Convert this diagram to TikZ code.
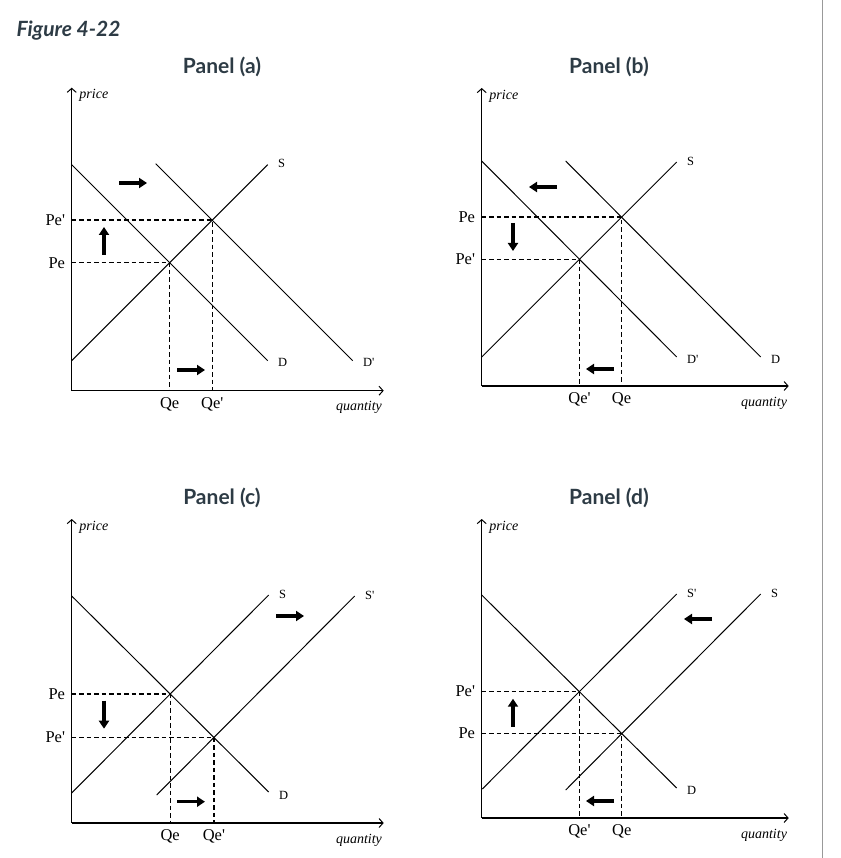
\documentclass[tikz,border=0pt]{standalone}
\usepackage{fontspec}
\setmainfont{Liberation Serif}
\newfontfamily\latofont{Lato}
\usetikzlibrary{arrows.meta}
\definecolor{tituloazul}{HTML}{2D3B45}
\newcommand{\prima}{\textquotesingle}

\tikzset{
  curva/.style={black, line width=1pt},
  eje/.style={black, line width=1.5pt, -{Straight Barb[length=4pt,width=9pt,line width=1pt]}},
  guia/.style={black, line width=1.4pt, dash pattern=on 4.5pt off 3pt},
  flecha/.style={black, line width=3.2pt, -{Triangle[length=8pt,width=10pt]}},
  titulo/.style={font=\latofont\bfseries\fontsize{21}{24}\selectfont, text=tituloazul},
  etiq/.style={font=\fontsize{16.5}{18}\selectfont, inner sep=2pt},
  curvaetiq/.style={font=\fontsize{12.5}{14}\selectfont, inner sep=1pt, anchor=west},
  ejeetiq/.style={font=\itshape\fontsize{14}{15}\selectfont, inner sep=1pt},
}

\begin{document}
\begin{tikzpicture}[x=1pt, y=1pt]
    \useasboundingbox (0,0) rectangle (840,-858);

    % Titulos
    \node[titulo, font=\latofont\bfseries\itshape\fontsize{21}{24}\selectfont, anchor=west] (figura) at (13,-31) {Figure 4-22};
    \node[titulo] (tit-a) at (222,-67) {Panel (a)};
    \node[titulo] (tit-b) at (609,-67) {Panel (b)};
    \node[titulo] (tit-c) at (222,-498) {Panel (c)};
    \node[titulo] (tit-d) at (609,-498) {Panel (d)};

    % Linea gris del borde derecho
    \draw[black!40, line width=1pt] (822.3,0) -- (822.3,-858);

    % Panel (a): aumento de la demanda
    \begin{scope}[shift={(71.7,-390.7)}]
        \coordinate (a-O) at (0,0);
        \draw[eje] (a-O) -- (0,303) node[ejeetiq, anchor=north west, xshift=6pt] (a-precio) {price};
        \draw[eje] (a-O) -- (312,0) node[ejeetiq, anchor=north east, yshift=-9pt] (a-cant) {quantity};

        \coordinate (a-D0) at (0,226);  \coordinate (a-D1) at (196,30);
        \coordinate (a-S0) at (0,30);   \coordinate (a-S1) at (196,226);
        \coordinate (a-Dp0) at (84,227); \coordinate (a-Dp1) at (281,30);
        \draw[curva] (a-D0) -- (a-D1) node[curvaetiq, xshift=9pt, yshift=-2pt] (a-D) {D};
        \draw[curva] (a-S0) -- (a-S1) node[curvaetiq, xshift=9pt, yshift=1pt] (a-S) {S};
        \draw[curva] (a-Dp0) -- (a-Dp1) node[curvaetiq, xshift=9pt, yshift=-2pt] (a-Dp) {D\prima};

        % Equilibrios y lineas guia
        \coordinate (a-E) at (intersection of a-D0--a-D1 and a-S0--a-S1);
        \coordinate (a-Ep) at (intersection of a-Dp0--a-Dp1 and a-S0--a-S1);
        \draw[guia] (a-E -| a-O) node[etiq, left=4pt] (a-Pe) {Pe} -- (a-E) -- (a-E |- a-O) node[etiq, below=4pt] (a-Qe) {Qe};
        \draw[guia] (a-Ep -| a-O) node[etiq, left=4pt] (a-Pep) {Pe\prima} -- (a-Ep) -- (a-Ep |- a-O) node[etiq, below=4pt] (a-Qep) {Qe\prima};

        % Flechas de desplazamiento
        \draw[flecha] (47.3,207.7) -- ++(28,0);
        \draw[flecha] (32.3,135.7) -- ++(0,28);
        \draw[flecha] (105.3,20.7) -- ++(28,0);
    \end{scope}

    % Panel (b): caida de la demanda
    \begin{scope}[shift={(481.7,-386)}]
        \coordinate (b-O) at (0,0);
        \draw[eje] (b-O) -- (0,298) node[ejeetiq, anchor=north west, xshift=6pt] (b-precio) {price};
        \draw[eje] (b-O) -- (307,0) node[ejeetiq, anchor=north east, yshift=-9pt] (b-cant) {quantity};

        \coordinate (b-Dp0) at (0,225);  \coordinate (b-Dp1) at (195,29);
        \coordinate (b-S0) at (0,29);    \coordinate (b-S1) at (195,224);
        \coordinate (b-D0) at (84,225);  \coordinate (b-D1) at (279,29);
        \draw[curva] (b-Dp0) -- (b-Dp1) node[curvaetiq, xshift=9pt, yshift=-2pt] (b-Dp) {D\prima};
        \draw[curva] (b-S0) -- (b-S1) node[curvaetiq, xshift=9pt, yshift=1pt] (b-S) {S};
        \draw[curva] (b-D0) -- (b-D1) node[curvaetiq, xshift=9pt, yshift=-2pt] (b-D) {D};

        \coordinate (b-E) at (intersection of b-D0--b-D1 and b-S0--b-S1);
        \coordinate (b-Ep) at (intersection of b-Dp0--b-Dp1 and b-S0--b-S1);
        \draw[guia] (b-E -| b-O) node[etiq, left=4pt] (b-Pe) {Pe} -- (b-E) -- (b-E |- b-O) node[etiq, below=4pt] (b-Qe) {Qe};
        \draw[guia] (b-Ep -| b-O) node[etiq, left=4pt] (b-Pep) {Pe\prima} -- (b-Ep) -- (b-Ep |- b-O) node[etiq, below=4pt] (b-Qep) {Qe\prima};

        \draw[flecha] (75.3,199) -- ++(-28,0);
        \draw[flecha] (31.3,163) -- ++(0,-28);
        \draw[flecha] (132.3,17) -- ++(-28,0);
    \end{scope}

    % Panel (c): aumento de la oferta
    \begin{scope}[shift={(71.7,-823)}]
        \coordinate (c-O) at (0,0);
        \draw[eje] (c-O) -- (0,304) node[ejeetiq, anchor=north west, xshift=6pt] (c-precio) {price};
        \draw[eje] (c-O) -- (312,0) node[ejeetiq, anchor=north east, yshift=-9pt] (c-cant) {quantity};

        \coordinate (c-D0) at (0,227);  \coordinate (c-D1) at (197,31);
        \coordinate (c-S0) at (0,30);   \coordinate (c-S1) at (197,228);
        \coordinate (c-Sp0) at (85,28); \coordinate (c-Sp1) at (283,227);
        \draw[curva] (c-D0) -- (c-D1) node[curvaetiq, xshift=9pt, yshift=-3pt] (c-D) {D};
        \draw[curva] (c-S0) -- (c-S1) node[curvaetiq, xshift=9pt, yshift=1pt] (c-S) {S};
        \draw[curva] (c-Sp0) -- (c-Sp1) node[curvaetiq, xshift=9pt, yshift=1pt] (c-Sp) {S\prima};

        \coordinate (c-E) at (intersection of c-D0--c-D1 and c-S0--c-S1);
        \coordinate (c-Ep) at (intersection of c-D0--c-D1 and c-Sp0--c-Sp1);
        \draw[guia] (c-E -| c-O) node[etiq, left=4pt] (c-Pe) {Pe} -- (c-E) -- (c-E |- c-O) node[etiq, below=4pt] (c-Qe) {Qe};
        \draw[guia] (c-Ep -| c-O) node[etiq, left=4pt] (c-Pep) {Pe\prima} -- (c-Ep) -- (c-Ep |- c-O) node[etiq, below=4pt] (c-Qep) {Qe\prima};

        \draw[flecha] (204.3,207) -- ++(28,0);
        \draw[flecha] (32.3,122.3) -- ++(0,-28);
        \draw[flecha] (105.3,21.3) -- ++(28,0);
    \end{scope}

    % Panel (d): caida de la oferta
    \begin{scope}[shift={(481.7,-818)}]
        \coordinate (d-O) at (0,0);
        \draw[eje] (d-O) -- (0,299) node[ejeetiq, anchor=north west, xshift=6pt] (d-precio) {price};
        \draw[eje] (d-O) -- (307,0) node[ejeetiq, anchor=north east, yshift=-9pt] (d-cant) {quantity};

        \coordinate (d-D0) at (0,223);   \coordinate (d-D1) at (195,30);
        \coordinate (d-Sp0) at (0.6,29); \coordinate (d-Sp1) at (195,224);
        \coordinate (d-S0) at (84,28);   \coordinate (d-S1) at (279,224);
        \draw[curva] (d-D0) -- (d-D1) node[curvaetiq, xshift=9pt, yshift=-2pt] (d-D) {D};
        \draw[curva] (d-Sp0) -- (d-Sp1) node[curvaetiq, xshift=9pt, yshift=1pt] (d-Sp) {S\prima};
        \draw[curva] (d-S0) -- (d-S1) node[curvaetiq, xshift=9pt, yshift=1pt] (d-S) {S};

        \coordinate (d-E) at (intersection of d-D0--d-D1 and d-S0--d-S1);
        \coordinate (d-Ep) at (intersection of d-D0--d-D1 and d-Sp0--d-Sp1);
        \draw[guia] (d-E -| d-O) node[etiq, left=4pt] (d-Pe) {Pe} -- (d-E) -- (d-E |- d-O) node[etiq, below=4pt] (d-Qe) {Qe};
        \draw[guia] (d-Ep -| d-O) node[etiq, left=4pt] (d-Pep) {Pe\prima} -- (d-Ep) -- (d-Ep |- d-O) node[etiq, below=4pt] (d-Qep) {Qe\prima};

        \draw[flecha] (230.3,199) -- ++(-28,0);
        \draw[flecha] (31.3,91.3) -- ++(0,28);
        \draw[flecha] (132.3,17) -- ++(-28,0);
    \end{scope}
\end{tikzpicture}
\end{document}
